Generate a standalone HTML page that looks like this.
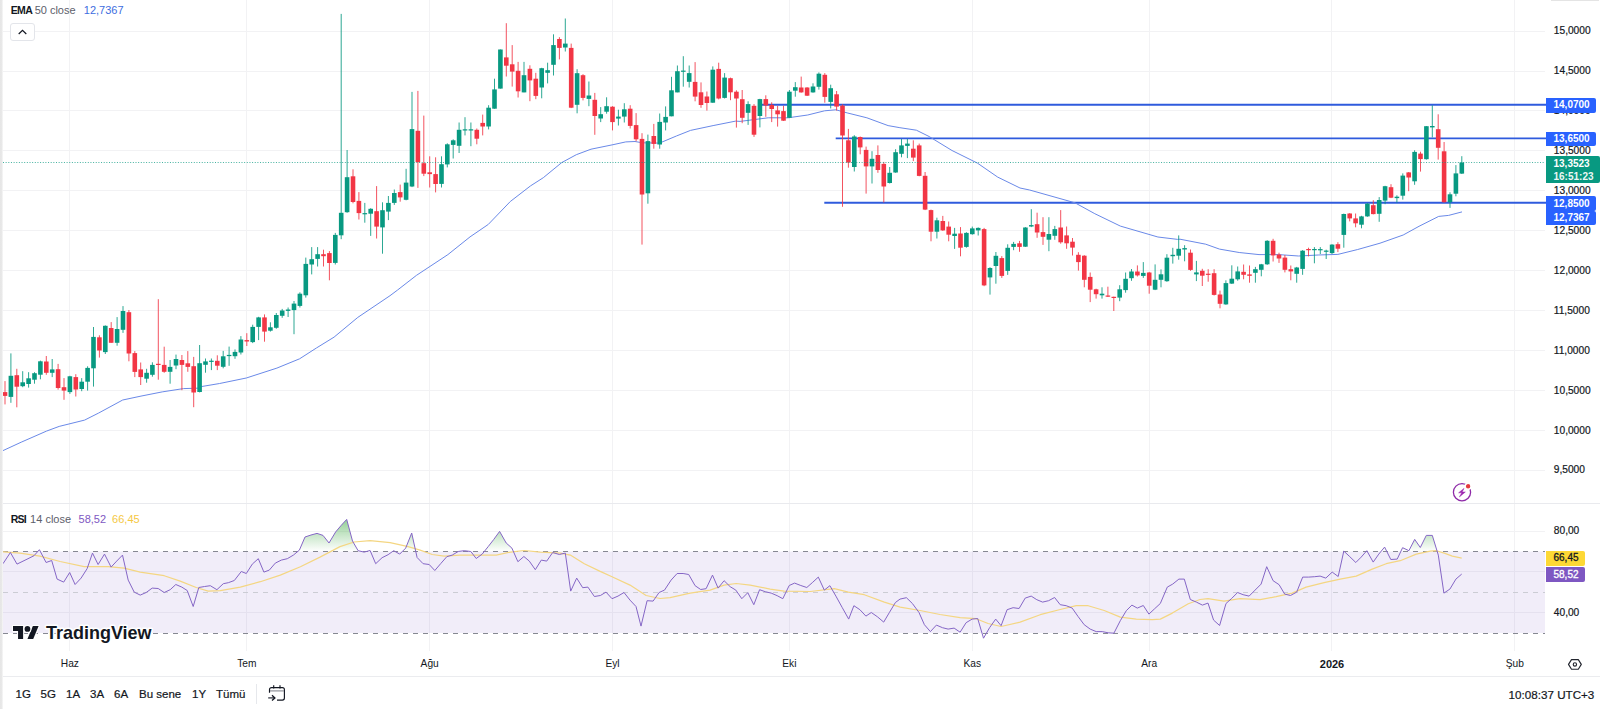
<!DOCTYPE html>
<html><head><meta charset="utf-8"><title>Chart</title>
<style>
html,body{margin:0;padding:0;background:#fff;}
body{width:1600px;height:709px;position:relative;overflow:hidden;font-family:"Liberation Sans",sans-serif;color:#131722;}
svg{position:absolute;left:0;top:0;}
.t{position:absolute;white-space:nowrap;line-height:1;}
.ax{font-size:10.2px;left:1553.8px;transform:translateY(-50%);-webkit-text-stroke:0.2px #131722;margin-top:0.2px}
.tm{font-size:10.2px;transform:translate(-50%,-50%);top:664px;}
.tb{font-size:11.5px;top:694.8px;transform:translateY(-50%);-webkit-text-stroke:0.2px #131722;}
.lb{position:absolute;left:1546px;color:#fff;font-size:10px;font-weight:bold;box-sizing:border-box;padding-left:7.5px;border-radius:0 2px 2px 0;white-space:nowrap;}
.strip{position:absolute;left:0;top:0;width:3px;height:709px;background:linear-gradient(90deg,#e6e6e6 0,#e9e9e9 70%,#fff 100%);}
</style></head><body>

<svg width="1600" height="709" viewBox="0 0 1600 709"><defs><clipPath id="rc"><polygon points="3,700 3.0,563.7 10.4,552.5 17.0,564.1 26.0,559.7 34.0,555.7 39.4,549.7 46.1,562.5 51.7,560.5 57.1,579.1 63.7,582.1 69.7,572.5 75.1,584.5 81.1,578.1 87.1,568.7 92.5,553.1 98.1,564.5 104.5,554.1 111.1,567.1 116.7,561.1 122.5,555.1 128.2,580.1 134.2,592.1 140.2,595.1 146.2,592.5 152.2,588.1 158.2,588.5 164.2,592.5 170.2,589.7 175.8,584.5 181.8,587.1 187.2,590.5 193.2,606.5 198.8,587.5 204.6,586.5 210.3,585.7 216.9,589.7 223.3,583.7 228.3,582.7 234.3,580.5 241.3,571.5 246.3,573.5 252.3,564.1 258.3,558.7 263.9,572.1 269.3,570.1 275.3,563.1 281.3,560.1 287.3,558.7 293.4,555.1 299.4,550.1 305.0,537.0 311.0,535.0 317.0,533.4 323.0,535.4 329.0,543.0 335.6,532.0 341.0,525.6 346.7,519.4 352.5,541.0 358.1,550.7 364.1,552.1 370.1,550.5 375.7,563.7 382.1,557.7 388.1,554.7 393.7,550.7 399.7,554.1 405.7,548.1 411.7,533.0 417.1,557.5 423.1,563.7 429.2,564.5 434.8,570.5 440.8,563.5 446.8,556.7 452.2,555.1 458.2,551.5 464.2,550.7 470.8,551.5 476.2,558.5 482.2,554.1 488.2,546.6 493.8,539.4 499.6,531.4 506.2,543.0 511.9,548.1 517.9,561.7 523.9,556.5 529.3,561.1 535.3,569.7 541.3,560.1 546.7,561.1 552.7,552.5 559.3,554.5 565.3,553.1 570.7,591.1 576.7,578.1 582.7,587.7 587.9,587.1 594.4,596.5 600.4,595.5 606.0,592.1 612.0,598.7 618.0,596.1 624.0,592.5 630.0,600.1 636.0,606.5 641.0,626.1 647.1,600.7 653.1,601.1 659.1,592.5 664.5,590.1 671.1,580.1 677.1,573.5 683.1,573.5 688.7,574.5 695.1,585.7 700.7,589.5 706.1,588.7 712.5,575.1 718.1,588.1 724.1,580.7 730.2,586.7 735.8,590.1 741.8,598.7 747.8,592.7 753.8,604.7 759.6,589.7 765.2,591.7 771.2,593.1 777.2,595.7 782.8,598.7 789.2,585.5 794.6,583.1 800.8,585.5 806.8,587.5 812.7,582.3 818.3,577.1 824.3,590.1 829.9,585.7 835.9,596.1 842.3,607.7 848.7,619.1 853.9,605.7 859.9,609.7 865.9,616.1 871.3,612.5 877.3,616.7 883.7,622.1 889.5,612.3 895.4,602.5 900.0,599.1 906.4,597.7 912.4,603.5 919.0,612.5 924.4,624.7 930.4,631.6 936.4,625.1 942.5,627.7 948.1,629.1 954.1,628.1 960.1,632.2 966.1,622.7 972.1,619.1 977.7,618.5 983.5,638.2 989.7,627.5 995.7,619.1 1001.1,625.7 1007.1,609.7 1013.1,607.7 1019.1,608.5 1025.2,598.1 1031.2,596.1 1036.8,599.7 1042.6,602.1 1048.6,600.7 1054.6,597.5 1060.2,604.7 1066.2,605.7 1072.2,608.1 1078.2,616.7 1084.2,624.7 1090.2,629.1 1096.2,631.6 1102.2,631.6 1108.2,632.8 1113.9,633.2 1120.3,620.7 1126.3,610.7 1131.9,605.1 1137.3,608.1 1143.3,605.5 1148.9,614.1 1154.7,608.7 1160.3,603.5 1167.3,587.1 1172.7,584.1 1178.9,579.1 1184.3,579.1 1190.3,599.5 1196.4,602.1 1202.4,605.1 1208.0,603.1 1213.6,620.1 1219.6,625.5 1226.0,603.5 1231.6,598.5 1237.6,592.5 1243.1,594.7 1249.1,596.1 1255.1,590.1 1261.1,584.1 1266.7,566.7 1273.1,580.7 1279.1,584.7 1284.7,594.1 1290.5,595.5 1296.7,592.1 1302.7,577.1 1308.7,577.1 1314.7,576.7 1320.1,576.1 1325.8,578.1 1332.2,572.1 1338.2,576.5 1343.8,551.1 1349.8,556.7 1355.8,562.5 1361.2,557.1 1366.8,550.7 1373.2,562.1 1378.8,554.1 1384.6,547.1 1390.8,559.5 1397.2,559.1 1402.6,547.7 1408.9,550.7 1414.7,539.4 1420.3,547.5 1426.3,535.4 1432.3,535.4 1438.3,555.1 1443.9,593.1 1449.9,589.1 1455.9,579.1 1461.7,574.1 1461.7,700"/></clipPath></defs>
<line x1="3" y1="31.5" x2="1545" y2="31.5" stroke="#f2f2f4" stroke-width="1"/>
<line x1="3" y1="71.5" x2="1545" y2="71.5" stroke="#f2f2f4" stroke-width="1"/>
<line x1="3" y1="110.5" x2="1545" y2="110.5" stroke="#f2f2f4" stroke-width="1"/>
<line x1="3" y1="150.5" x2="1545" y2="150.5" stroke="#f2f2f4" stroke-width="1"/>
<line x1="3" y1="190.5" x2="1545" y2="190.5" stroke="#f2f2f4" stroke-width="1"/>
<line x1="3" y1="230.5" x2="1545" y2="230.5" stroke="#f2f2f4" stroke-width="1"/>
<line x1="3" y1="270.5" x2="1545" y2="270.5" stroke="#f2f2f4" stroke-width="1"/>
<line x1="3" y1="310.5" x2="1545" y2="310.5" stroke="#f2f2f4" stroke-width="1"/>
<line x1="3" y1="350.5" x2="1545" y2="350.5" stroke="#f2f2f4" stroke-width="1"/>
<line x1="3" y1="390.5" x2="1545" y2="390.5" stroke="#f2f2f4" stroke-width="1"/>
<line x1="3" y1="430.5" x2="1545" y2="430.5" stroke="#f2f2f4" stroke-width="1"/>
<line x1="3" y1="470.5" x2="1545" y2="470.5" stroke="#f2f2f4" stroke-width="1"/>
<line x1="3" y1="531.5" x2="1545" y2="531.5" stroke="#f2f2f4" stroke-width="1"/>
<line x1="3" y1="571.5" x2="1545" y2="571.5" stroke="#f2f2f4" stroke-width="1"/>
<line x1="3" y1="612.5" x2="1545" y2="612.5" stroke="#f2f2f4" stroke-width="1"/>
<line x1="69.5" y1="0" x2="69.5" y2="651" stroke="#f2f2f4" stroke-width="1"/>
<line x1="246.5" y1="0" x2="246.5" y2="651" stroke="#f2f2f4" stroke-width="1"/>
<line x1="429.5" y1="0" x2="429.5" y2="651" stroke="#f2f2f4" stroke-width="1"/>
<line x1="612.5" y1="0" x2="612.5" y2="651" stroke="#f2f2f4" stroke-width="1"/>
<line x1="789.5" y1="0" x2="789.5" y2="651" stroke="#f2f2f4" stroke-width="1"/>
<line x1="972.5" y1="0" x2="972.5" y2="651" stroke="#f2f2f4" stroke-width="1"/>
<line x1="1149.5" y1="0" x2="1149.5" y2="651" stroke="#f2f2f4" stroke-width="1"/>
<line x1="1331.5" y1="0" x2="1331.5" y2="651" stroke="#f2f2f4" stroke-width="1"/>
<line x1="1514.5" y1="0" x2="1514.5" y2="651" stroke="#f2f2f4" stroke-width="1"/>
<rect x="3" y="551.5" width="1542" height="81.5" fill="#7e57c2" fill-opacity="0.105"/>
<line x1="0" y1="503.5" x2="1600" y2="503.5" stroke="#e9eaee" stroke-width="1"/>
<line x1="0" y1="676.5" x2="1600" y2="676.5" stroke="#ebecef" stroke-width="1"/>
<rect x="1551" y="0" width="48" height="1" fill="#e4e4e4"/>
<line x1="762" y1="104.8" x2="1546" y2="104.8" stroke="#2f5bdd" stroke-width="1.9"/>
<line x1="835.7" y1="138.4" x2="1546" y2="138.4" stroke="#2f5bdd" stroke-width="1.9"/>
<line x1="824.3" y1="202.8" x2="1546" y2="202.8" stroke="#2f5bdd" stroke-width="1.9"/>
<polyline fill="none" stroke="#6a89e8" stroke-width="1" stroke-linejoin="round" points="2.8,450.7 21.2,442.2 46.5,431.1 59.2,426.4 84.6,420.1 98.7,413.0 122.7,400.0 141.0,396.1 162.2,391.9 183.4,388.6 200.0,388.1 201.8,386.5 219.6,383.5 246.3,378.0 276.9,368.1 299.6,358.8 316.4,348.0 334.1,337.1 357.8,317.4 390.0,295.7 397.6,290.0 416.4,275.4 447.9,254.6 470.0,236.9 488.3,224.4 510.3,201.5 530.5,185.9 543.3,177.7 561.7,162.6 576.3,154.7 591.0,149.2 613.0,144.7 625.8,141.9 635.0,141.5 642.3,142.8 659.5,143.1 676.4,136.0 690.5,130.4 713.1,125.6 735.7,121.1 740.0,121.4 768.2,117.8 788.0,117.8 807.7,115.0 824.6,110.8 835.9,109.8 847.2,112.9 866.9,117.8 888.1,125.6 899.9,127.7 916.4,130.2 929.1,136.5 952.0,150.5 977.4,163.1 997.7,177.1 1020.0,188.0 1029.6,190.0 1075.0,202.8 1094.8,213.7 1120.4,226.1 1157.9,237.0 1177.7,239.4 1180.0,239.2 1205.7,244.2 1219.5,249.1 1239.2,252.5 1259.0,254.6 1278.7,254.6 1298.5,256.0 1318.2,255.0 1337.9,254.4 1357.7,249.5 1380.0,243.2 1403.2,235.0 1419.0,226.3 1438.7,216.4 1448.6,215.4 1462.0,211.9"/>
<g stroke-width="1" opacity="0.85"><line x1="5.0" y1="381.1" x2="5.0" y2="404.4" stroke="#f23645"/><line x1="10.9" y1="353.4" x2="10.9" y2="402.8" stroke="#089981"/><line x1="16.8" y1="368.8" x2="16.8" y2="407.3" stroke="#f23645"/><line x1="22.7" y1="371.2" x2="22.7" y2="387.2" stroke="#089981"/><line x1="28.6" y1="372.2" x2="28.6" y2="387.6" stroke="#089981"/><line x1="34.5" y1="372.2" x2="34.5" y2="383.7" stroke="#089981"/><line x1="40.4" y1="360.6" x2="40.4" y2="379.3" stroke="#089981"/><line x1="46.3" y1="356.0" x2="46.3" y2="374.8" stroke="#f23645"/><line x1="52.2" y1="359.0" x2="52.2" y2="377.1" stroke="#089981"/><line x1="58.1" y1="363.9" x2="58.1" y2="389.6" stroke="#f23645"/><line x1="64.0" y1="378.1" x2="64.0" y2="399.8" stroke="#f23645"/><line x1="69.9" y1="375.8" x2="69.9" y2="393.9" stroke="#089981"/><line x1="75.8" y1="374.2" x2="75.8" y2="396.5" stroke="#f23645"/><line x1="81.7" y1="378.1" x2="81.7" y2="391.2" stroke="#089981"/><line x1="87.6" y1="366.3" x2="87.6" y2="390.6" stroke="#089981"/><line x1="93.5" y1="327.0" x2="93.5" y2="386.6" stroke="#089981"/><line x1="99.4" y1="335.3" x2="99.4" y2="357.6" stroke="#f23645"/><line x1="105.3" y1="325.4" x2="105.3" y2="354.0" stroke="#089981"/><line x1="111.2" y1="322.1" x2="111.2" y2="342.8" stroke="#f23645"/><line x1="117.1" y1="317.1" x2="117.1" y2="345.7" stroke="#089981"/><line x1="123.0" y1="306.1" x2="123.0" y2="332.9" stroke="#089981"/><line x1="128.9" y1="310.0" x2="128.9" y2="361.3" stroke="#f23645"/><line x1="134.8" y1="351.1" x2="134.8" y2="377.1" stroke="#f23645"/><line x1="140.7" y1="362.5" x2="140.7" y2="385.0" stroke="#f23645"/><line x1="146.6" y1="368.8" x2="146.6" y2="382.7" stroke="#089981"/><line x1="152.4" y1="362.3" x2="152.4" y2="376.7" stroke="#089981"/><line x1="158.3" y1="299.2" x2="158.3" y2="379.7" stroke="#f23645"/><line x1="164.2" y1="346.7" x2="164.2" y2="372.8" stroke="#f23645"/><line x1="170.1" y1="360.0" x2="170.1" y2="383.7" stroke="#089981"/><line x1="176.0" y1="354.6" x2="176.0" y2="369.2" stroke="#089981"/><line x1="181.9" y1="355.0" x2="181.9" y2="390.2" stroke="#f23645"/><line x1="187.8" y1="351.1" x2="187.8" y2="371.8" stroke="#f23645"/><line x1="193.7" y1="356.9" x2="193.7" y2="407.2" stroke="#f23645"/><line x1="199.6" y1="345.0" x2="199.6" y2="392.4" stroke="#089981"/><line x1="205.5" y1="358.5" x2="205.5" y2="372.7" stroke="#089981"/><line x1="211.4" y1="358.5" x2="211.4" y2="370.1" stroke="#089981"/><line x1="217.3" y1="355.3" x2="217.3" y2="370.1" stroke="#f23645"/><line x1="223.2" y1="350.9" x2="223.2" y2="368.3" stroke="#089981"/><line x1="229.1" y1="346.6" x2="229.1" y2="365.8" stroke="#089981"/><line x1="235.0" y1="349.4" x2="235.0" y2="358.8" stroke="#089981"/><line x1="240.9" y1="336.1" x2="240.9" y2="354.5" stroke="#089981"/><line x1="246.8" y1="333.2" x2="246.8" y2="346.0" stroke="#f23645"/><line x1="252.7" y1="324.7" x2="252.7" y2="343.1" stroke="#089981"/><line x1="258.6" y1="316.8" x2="258.6" y2="340.1" stroke="#089981"/><line x1="264.5" y1="314.4" x2="264.5" y2="341.7" stroke="#f23645"/><line x1="270.4" y1="322.3" x2="270.4" y2="331.6" stroke="#089981"/><line x1="276.3" y1="313.0" x2="276.3" y2="328.8" stroke="#089981"/><line x1="282.2" y1="308.9" x2="282.2" y2="317.8" stroke="#089981"/><line x1="288.1" y1="307.5" x2="288.1" y2="317.0" stroke="#089981"/><line x1="294.0" y1="301.0" x2="294.0" y2="334.2" stroke="#089981"/><line x1="299.9" y1="292.3" x2="299.9" y2="307.5" stroke="#089981"/><line x1="305.8" y1="257.6" x2="305.8" y2="297.6" stroke="#089981"/><line x1="311.7" y1="247.1" x2="311.7" y2="274.4" stroke="#089981"/><line x1="317.6" y1="247.1" x2="317.6" y2="266.5" stroke="#089981"/><line x1="323.5" y1="249.7" x2="323.5" y2="266.5" stroke="#f23645"/><line x1="329.4" y1="251.1" x2="329.4" y2="280.3" stroke="#f23645"/><line x1="335.3" y1="232.9" x2="335.3" y2="264.5" stroke="#089981"/><line x1="341.2" y1="13.9" x2="341.2" y2="239.2" stroke="#089981"/><line x1="347.1" y1="150.0" x2="347.1" y2="212.8" stroke="#089981"/><line x1="353.0" y1="169.3" x2="353.0" y2="203.3" stroke="#f23645"/><line x1="358.9" y1="192.1" x2="358.9" y2="219.5" stroke="#f23645"/><line x1="364.8" y1="202.9" x2="364.8" y2="222.7" stroke="#089981"/><line x1="370.7" y1="208.2" x2="370.7" y2="235.9" stroke="#089981"/><line x1="376.6" y1="186.1" x2="376.6" y2="238.5" stroke="#f23645"/><line x1="382.5" y1="202.3" x2="382.5" y2="253.7" stroke="#089981"/><line x1="388.4" y1="196.0" x2="388.4" y2="220.1" stroke="#089981"/><line x1="394.3" y1="189.5" x2="394.3" y2="204.9" stroke="#089981"/><line x1="400.2" y1="184.6" x2="400.2" y2="201.7" stroke="#f23645"/><line x1="406.1" y1="168.8" x2="406.1" y2="200.3" stroke="#089981"/><line x1="412.0" y1="91.9" x2="412.0" y2="187.1" stroke="#089981"/><line x1="417.9" y1="90.9" x2="417.9" y2="187.9" stroke="#f23645"/><line x1="423.8" y1="115.6" x2="423.8" y2="176.1" stroke="#f23645"/><line x1="429.7" y1="156.3" x2="429.7" y2="187.5" stroke="#f23645"/><line x1="435.6" y1="157.3" x2="435.6" y2="192.4" stroke="#f23645"/><line x1="441.5" y1="156.3" x2="441.5" y2="187.5" stroke="#089981"/><line x1="447.3" y1="143.3" x2="447.3" y2="167.4" stroke="#089981"/><line x1="453.2" y1="139.3" x2="453.2" y2="158.5" stroke="#089981"/><line x1="459.1" y1="122.5" x2="459.1" y2="153.0" stroke="#089981"/><line x1="465.0" y1="117.2" x2="465.0" y2="135.4" stroke="#089981"/><line x1="470.9" y1="122.5" x2="470.9" y2="146.2" stroke="#089981"/><line x1="476.8" y1="128.5" x2="476.8" y2="144.3" stroke="#f23645"/><line x1="482.7" y1="114.6" x2="482.7" y2="135.4" stroke="#f23645"/><line x1="488.6" y1="105.2" x2="488.6" y2="129.4" stroke="#089981"/><line x1="494.5" y1="78.7" x2="494.5" y2="108.7" stroke="#089981"/><line x1="500.4" y1="49.5" x2="500.4" y2="88.6" stroke="#089981"/><line x1="506.3" y1="23.2" x2="506.3" y2="76.5" stroke="#f23645"/><line x1="512.2" y1="45.1" x2="512.2" y2="86.6" stroke="#f23645"/><line x1="518.1" y1="61.9" x2="518.1" y2="97.5" stroke="#f23645"/><line x1="524.0" y1="61.9" x2="524.0" y2="92.3" stroke="#089981"/><line x1="529.9" y1="65.3" x2="529.9" y2="101.2" stroke="#f23645"/><line x1="535.8" y1="72.8" x2="535.8" y2="99.2" stroke="#f23645"/><line x1="541.7" y1="67.8" x2="541.7" y2="98.3" stroke="#089981"/><line x1="547.6" y1="62.7" x2="547.6" y2="83.4" stroke="#089981"/><line x1="553.5" y1="34.3" x2="553.5" y2="75.5" stroke="#089981"/><line x1="559.4" y1="37.2" x2="559.4" y2="59.4" stroke="#f23645"/><line x1="565.3" y1="18.5" x2="565.3" y2="51.5" stroke="#089981"/><line x1="571.2" y1="43.6" x2="571.2" y2="108.1" stroke="#f23645"/><line x1="577.1" y1="69.2" x2="577.1" y2="113.3" stroke="#089981"/><line x1="583.0" y1="74.2" x2="583.0" y2="100.4" stroke="#f23645"/><line x1="588.9" y1="81.5" x2="588.9" y2="106.2" stroke="#089981"/><line x1="594.8" y1="92.9" x2="594.8" y2="134.8" stroke="#f23645"/><line x1="600.7" y1="107.1" x2="600.7" y2="122.1" stroke="#089981"/><line x1="606.6" y1="97.3" x2="606.6" y2="113.7" stroke="#089981"/><line x1="612.5" y1="106.2" x2="612.5" y2="130.4" stroke="#f23645"/><line x1="618.4" y1="109.7" x2="618.4" y2="125.5" stroke="#089981"/><line x1="624.3" y1="103.2" x2="624.3" y2="122.5" stroke="#089981"/><line x1="630.2" y1="105.2" x2="630.2" y2="128.5" stroke="#f23645"/><line x1="636.1" y1="113.1" x2="636.1" y2="141.3" stroke="#f23645"/><line x1="642.0" y1="133.2" x2="642.0" y2="244.6" stroke="#f23645"/><line x1="647.9" y1="134.6" x2="647.9" y2="203.7" stroke="#089981"/><line x1="653.8" y1="123.9" x2="653.8" y2="148.7" stroke="#f23645"/><line x1="659.7" y1="113.5" x2="659.7" y2="148.7" stroke="#089981"/><line x1="665.6" y1="106.4" x2="665.6" y2="130.4" stroke="#089981"/><line x1="671.5" y1="76.8" x2="671.5" y2="116.3" stroke="#089981"/><line x1="677.4" y1="65.5" x2="677.4" y2="92.3" stroke="#089981"/><line x1="683.3" y1="56.2" x2="683.3" y2="86.7" stroke="#089981"/><line x1="689.2" y1="65.5" x2="689.2" y2="87.5" stroke="#089981"/><line x1="695.1" y1="62.1" x2="695.1" y2="101.3" stroke="#f23645"/><line x1="701.0" y1="82.4" x2="701.0" y2="107.8" stroke="#f23645"/><line x1="706.9" y1="91.5" x2="706.9" y2="110.6" stroke="#f23645"/><line x1="712.8" y1="66.4" x2="712.8" y2="102.8" stroke="#089981"/><line x1="718.7" y1="62.7" x2="718.7" y2="99.4" stroke="#f23645"/><line x1="724.6" y1="73.1" x2="724.6" y2="98.5" stroke="#089981"/><line x1="730.5" y1="77.6" x2="730.5" y2="100.2" stroke="#f23645"/><line x1="736.4" y1="90.3" x2="736.4" y2="127.6" stroke="#f23645"/><line x1="742.2" y1="90.0" x2="742.2" y2="123.2" stroke="#f23645"/><line x1="748.1" y1="101.3" x2="748.1" y2="124.9" stroke="#089981"/><line x1="754.0" y1="104.1" x2="754.0" y2="136.9" stroke="#f23645"/><line x1="759.9" y1="98.8" x2="759.9" y2="127.4" stroke="#089981"/><line x1="765.8" y1="95.3" x2="765.8" y2="116.8" stroke="#f23645"/><line x1="771.7" y1="102.3" x2="771.7" y2="122.1" stroke="#f23645"/><line x1="777.6" y1="105.8" x2="777.6" y2="126.6" stroke="#f23645"/><line x1="783.5" y1="105.8" x2="783.5" y2="120.9" stroke="#f23645"/><line x1="789.4" y1="90.0" x2="789.4" y2="118.1" stroke="#089981"/><line x1="795.3" y1="82.1" x2="795.3" y2="96.7" stroke="#089981"/><line x1="801.2" y1="76.6" x2="801.2" y2="92.7" stroke="#f23645"/><line x1="807.1" y1="87.2" x2="807.1" y2="96.0" stroke="#f23645"/><line x1="813.0" y1="83.3" x2="813.0" y2="92.7" stroke="#089981"/><line x1="818.9" y1="72.4" x2="818.9" y2="89.6" stroke="#089981"/><line x1="824.8" y1="73.1" x2="824.8" y2="102.7" stroke="#f23645"/><line x1="830.7" y1="84.7" x2="830.7" y2="108.4" stroke="#089981"/><line x1="836.6" y1="91.0" x2="836.6" y2="110.5" stroke="#f23645"/><line x1="842.5" y1="104.4" x2="842.5" y2="206.8" stroke="#f23645"/><line x1="848.4" y1="128.9" x2="848.4" y2="167.7" stroke="#f23645"/><line x1="854.3" y1="135.2" x2="854.3" y2="171.5" stroke="#089981"/><line x1="860.2" y1="136.5" x2="860.2" y2="154.3" stroke="#f23645"/><line x1="866.1" y1="146.6" x2="866.1" y2="193.6" stroke="#f23645"/><line x1="872.0" y1="151.2" x2="872.0" y2="183.5" stroke="#089981"/><line x1="877.9" y1="145.4" x2="877.9" y2="172.8" stroke="#f23645"/><line x1="883.8" y1="161.9" x2="883.8" y2="202.5" stroke="#f23645"/><line x1="889.7" y1="167.0" x2="889.7" y2="183.5" stroke="#089981"/><line x1="895.6" y1="149.2" x2="895.6" y2="172.8" stroke="#089981"/><line x1="901.5" y1="139.0" x2="901.5" y2="157.3" stroke="#089981"/><line x1="907.4" y1="139.0" x2="907.4" y2="158.1" stroke="#089981"/><line x1="913.3" y1="140.3" x2="913.3" y2="161.1" stroke="#f23645"/><line x1="919.2" y1="143.6" x2="919.2" y2="176.3" stroke="#f23645"/><line x1="925.1" y1="172.0" x2="925.1" y2="210.1" stroke="#f23645"/><line x1="931.0" y1="209.6" x2="931.0" y2="241.3" stroke="#f23645"/><line x1="936.9" y1="217.7" x2="936.9" y2="238.5" stroke="#089981"/><line x1="942.8" y1="215.9" x2="942.8" y2="230.9" stroke="#f23645"/><line x1="948.7" y1="221.5" x2="948.7" y2="241.3" stroke="#f23645"/><line x1="954.6" y1="227.9" x2="954.6" y2="248.9" stroke="#089981"/><line x1="960.5" y1="227.1" x2="960.5" y2="256.3" stroke="#f23645"/><line x1="966.4" y1="232.2" x2="966.4" y2="247.7" stroke="#089981"/><line x1="972.3" y1="226.6" x2="972.3" y2="234.7" stroke="#089981"/><line x1="978.2" y1="227.4" x2="978.2" y2="235.5" stroke="#089981"/><line x1="984.1" y1="227.9" x2="984.1" y2="286.2" stroke="#f23645"/><line x1="990.0" y1="267.2" x2="990.0" y2="294.6" stroke="#089981"/><line x1="995.9" y1="252.0" x2="995.9" y2="283.7" stroke="#089981"/><line x1="1001.8" y1="256.1" x2="1001.8" y2="277.9" stroke="#f23645"/><line x1="1007.7" y1="244.3" x2="1007.7" y2="274.9" stroke="#089981"/><line x1="1013.6" y1="241.9" x2="1013.6" y2="250.2" stroke="#089981"/><line x1="1019.5" y1="240.9" x2="1019.5" y2="251.8" stroke="#f23645"/><line x1="1025.4" y1="227.1" x2="1025.4" y2="246.9" stroke="#089981"/><line x1="1031.3" y1="209.2" x2="1031.3" y2="227.1" stroke="#089981"/><line x1="1037.1" y1="212.7" x2="1037.1" y2="237.8" stroke="#f23645"/><line x1="1043.0" y1="217.2" x2="1043.0" y2="244.9" stroke="#f23645"/><line x1="1048.9" y1="217.2" x2="1048.9" y2="251.2" stroke="#089981"/><line x1="1054.8" y1="225.9" x2="1054.8" y2="239.8" stroke="#089981"/><line x1="1060.7" y1="210.1" x2="1060.7" y2="243.7" stroke="#f23645"/><line x1="1066.6" y1="226.5" x2="1066.6" y2="248.8" stroke="#f23645"/><line x1="1072.5" y1="238.0" x2="1072.5" y2="255.5" stroke="#f23645"/><line x1="1078.4" y1="252.2" x2="1078.4" y2="270.6" stroke="#f23645"/><line x1="1084.3" y1="255.2" x2="1084.3" y2="287.3" stroke="#f23645"/><line x1="1090.2" y1="272.5" x2="1090.2" y2="302.1" stroke="#f23645"/><line x1="1096.1" y1="288.7" x2="1096.1" y2="298.6" stroke="#f23645"/><line x1="1102.0" y1="287.3" x2="1102.0" y2="298.6" stroke="#089981"/><line x1="1107.9" y1="286.7" x2="1107.9" y2="297.0" stroke="#f23645"/><line x1="1113.8" y1="296.6" x2="1113.8" y2="311.0" stroke="#f23645"/><line x1="1119.7" y1="285.2" x2="1119.7" y2="301.2" stroke="#089981"/><line x1="1125.6" y1="272.5" x2="1125.6" y2="292.7" stroke="#089981"/><line x1="1131.5" y1="269.0" x2="1131.5" y2="280.8" stroke="#089981"/><line x1="1137.4" y1="265.4" x2="1137.4" y2="276.5" stroke="#f23645"/><line x1="1143.3" y1="262.1" x2="1143.3" y2="277.9" stroke="#089981"/><line x1="1149.2" y1="271.9" x2="1149.2" y2="293.7" stroke="#f23645"/><line x1="1155.1" y1="264.4" x2="1155.1" y2="290.1" stroke="#089981"/><line x1="1161.0" y1="269.4" x2="1161.0" y2="287.3" stroke="#089981"/><line x1="1166.9" y1="254.2" x2="1166.9" y2="281.8" stroke="#089981"/><line x1="1172.8" y1="247.8" x2="1172.8" y2="263.6" stroke="#089981"/><line x1="1178.7" y1="235.4" x2="1178.7" y2="259.7" stroke="#089981"/><line x1="1184.6" y1="245.2" x2="1184.6" y2="261.3" stroke="#089981"/><line x1="1190.5" y1="249.5" x2="1190.5" y2="270.8" stroke="#f23645"/><line x1="1196.4" y1="260.9" x2="1196.4" y2="281.1" stroke="#089981"/><line x1="1202.3" y1="268.8" x2="1202.3" y2="286.0" stroke="#f23645"/><line x1="1208.2" y1="269.2" x2="1208.2" y2="281.7" stroke="#f23645"/><line x1="1214.1" y1="269.2" x2="1214.1" y2="295.5" stroke="#f23645"/><line x1="1220.0" y1="290.6" x2="1220.0" y2="308.3" stroke="#f23645"/><line x1="1225.9" y1="280.3" x2="1225.9" y2="304.8" stroke="#089981"/><line x1="1231.8" y1="265.3" x2="1231.8" y2="284.0" stroke="#089981"/><line x1="1237.7" y1="266.5" x2="1237.7" y2="280.7" stroke="#089981"/><line x1="1243.6" y1="264.5" x2="1243.6" y2="279.3" stroke="#f23645"/><line x1="1249.5" y1="265.5" x2="1249.5" y2="282.7" stroke="#f23645"/><line x1="1255.4" y1="266.9" x2="1255.4" y2="282.7" stroke="#089981"/><line x1="1261.3" y1="263.9" x2="1261.3" y2="276.3" stroke="#089981"/><line x1="1267.2" y1="240.2" x2="1267.2" y2="264.9" stroke="#089981"/><line x1="1273.1" y1="238.8" x2="1273.1" y2="261.5" stroke="#f23645"/><line x1="1279.0" y1="252.7" x2="1279.0" y2="262.9" stroke="#f23645"/><line x1="1284.9" y1="255.0" x2="1284.9" y2="272.4" stroke="#f23645"/><line x1="1290.8" y1="265.5" x2="1290.8" y2="280.3" stroke="#f23645"/><line x1="1296.7" y1="266.9" x2="1296.7" y2="282.7" stroke="#089981"/><line x1="1302.6" y1="250.1" x2="1302.6" y2="274.8" stroke="#089981"/><line x1="1308.5" y1="247.7" x2="1308.5" y2="256.4" stroke="#f23645"/><line x1="1314.4" y1="247.1" x2="1314.4" y2="263.3" stroke="#089981"/><line x1="1320.3" y1="247.1" x2="1320.3" y2="254.0" stroke="#089981"/><line x1="1326.2" y1="249.7" x2="1326.2" y2="259.0" stroke="#089981"/><line x1="1332.0" y1="244.2" x2="1332.0" y2="254.0" stroke="#089981"/><line x1="1337.9" y1="242.2" x2="1337.9" y2="252.1" stroke="#f23645"/><line x1="1343.8" y1="213.6" x2="1343.8" y2="247.7" stroke="#089981"/><line x1="1349.7" y1="213.1" x2="1349.7" y2="221.4" stroke="#f23645"/><line x1="1355.6" y1="213.5" x2="1355.6" y2="227.3" stroke="#f23645"/><line x1="1361.5" y1="215.8" x2="1361.5" y2="228.3" stroke="#089981"/><line x1="1367.4" y1="203.2" x2="1367.4" y2="216.8" stroke="#089981"/><line x1="1373.3" y1="200.2" x2="1373.3" y2="214.4" stroke="#f23645"/><line x1="1379.2" y1="197.1" x2="1379.2" y2="221.8" stroke="#089981"/><line x1="1385.1" y1="185.8" x2="1385.1" y2="204.2" stroke="#089981"/><line x1="1391.0" y1="184.2" x2="1391.0" y2="198.1" stroke="#f23645"/><line x1="1396.9" y1="195.3" x2="1396.9" y2="202.6" stroke="#089981"/><line x1="1402.8" y1="173.4" x2="1402.8" y2="199.6" stroke="#089981"/><line x1="1408.7" y1="172.0" x2="1408.7" y2="191.2" stroke="#f23645"/><line x1="1414.6" y1="150.3" x2="1414.6" y2="184.8" stroke="#089981"/><line x1="1420.5" y1="151.7" x2="1420.5" y2="171.6" stroke="#f23645"/><line x1="1426.4" y1="126.0" x2="1426.4" y2="159.6" stroke="#089981"/><line x1="1432.3" y1="105.3" x2="1432.3" y2="137.4" stroke="#089981"/><line x1="1438.2" y1="114.3" x2="1438.2" y2="159.6" stroke="#f23645"/><line x1="1444.1" y1="142.0" x2="1444.1" y2="202.6" stroke="#f23645"/><line x1="1450.0" y1="192.3" x2="1450.0" y2="207.9" stroke="#089981"/><line x1="1455.9" y1="165.1" x2="1455.9" y2="196.3" stroke="#089981"/><line x1="1461.8" y1="156.2" x2="1461.8" y2="174.0" stroke="#089981"/></g>
<g><rect x="2.7" y="392.1" width="4.6" height="3.8" fill="#f23645"/><rect x="8.6" y="375.8" width="4.6" height="21.1" fill="#089981"/><rect x="14.5" y="375.2" width="4.6" height="11.5" fill="#f23645"/><rect x="20.4" y="382.3" width="4.6" height="3.9" fill="#089981"/><rect x="26.3" y="378.3" width="4.6" height="5.7" fill="#089981"/><rect x="32.2" y="373.2" width="4.6" height="6.5" fill="#089981"/><rect x="38.1" y="361.3" width="4.6" height="13.4" fill="#089981"/><rect x="44.0" y="361.5" width="4.6" height="11.3" fill="#f23645"/><rect x="49.9" y="369.4" width="4.6" height="3.4" fill="#089981"/><rect x="55.8" y="369.2" width="4.6" height="18.8" fill="#f23645"/><rect x="61.7" y="387.2" width="4.6" height="3.4" fill="#f23645"/><rect x="67.6" y="376.3" width="4.6" height="15.8" fill="#089981"/><rect x="73.5" y="377.1" width="4.6" height="12.4" fill="#f23645"/><rect x="79.4" y="381.7" width="4.6" height="7.3" fill="#089981"/><rect x="85.3" y="367.9" width="4.6" height="13.8" fill="#089981"/><rect x="91.2" y="336.9" width="4.6" height="31.4" fill="#089981"/><rect x="97.1" y="337.3" width="4.6" height="13.2" fill="#f23645"/><rect x="103.0" y="325.8" width="4.6" height="26.3" fill="#089981"/><rect x="108.9" y="328.0" width="4.6" height="14.8" fill="#f23645"/><rect x="114.8" y="329.0" width="4.6" height="13.8" fill="#089981"/><rect x="120.7" y="311.0" width="4.6" height="18.8" fill="#089981"/><rect x="126.6" y="312.2" width="4.6" height="41.3" fill="#f23645"/><rect x="132.5" y="353.1" width="4.6" height="18.8" fill="#f23645"/><rect x="138.4" y="369.4" width="4.6" height="7.7" fill="#f23645"/><rect x="144.3" y="372.8" width="4.6" height="5.9" fill="#089981"/><rect x="150.1" y="364.9" width="4.6" height="9.9" fill="#089981"/><rect x="156.0" y="363.8" width="4.6" height="1.2" fill="#f23645"/><rect x="161.9" y="364.9" width="4.6" height="6.9" fill="#f23645"/><rect x="167.8" y="366.9" width="4.6" height="4.9" fill="#089981"/><rect x="173.7" y="359.0" width="4.6" height="6.5" fill="#089981"/><rect x="179.6" y="360.0" width="4.6" height="4.9" fill="#f23645"/><rect x="185.5" y="363.3" width="4.6" height="3.6" fill="#f23645"/><rect x="191.4" y="366.2" width="4.6" height="26.3" fill="#f23645"/><rect x="197.3" y="363.2" width="4.6" height="28.8" fill="#089981"/><rect x="203.2" y="361.4" width="4.6" height="3.4" fill="#089981"/><rect x="209.1" y="360.7" width="4.6" height="1.2" fill="#089981"/><rect x="215.0" y="360.8" width="4.6" height="4.9" fill="#f23645"/><rect x="220.9" y="356.3" width="4.6" height="10.5" fill="#089981"/><rect x="226.8" y="354.9" width="4.6" height="1.2" fill="#089981"/><rect x="232.7" y="351.9" width="4.6" height="4.3" fill="#089981"/><rect x="238.6" y="339.5" width="4.6" height="13.0" fill="#089981"/><rect x="244.5" y="340.1" width="4.6" height="1.4" fill="#f23645"/><rect x="250.4" y="326.9" width="4.6" height="15.2" fill="#089981"/><rect x="256.3" y="317.4" width="4.6" height="9.5" fill="#089981"/><rect x="262.2" y="317.4" width="4.6" height="14.2" fill="#f23645"/><rect x="268.1" y="327.3" width="4.6" height="3.4" fill="#089981"/><rect x="274.0" y="315.0" width="4.6" height="12.8" fill="#089981"/><rect x="279.9" y="310.5" width="4.6" height="5.3" fill="#089981"/><rect x="285.8" y="309.5" width="4.6" height="1.4" fill="#089981"/><rect x="291.7" y="303.6" width="4.6" height="6.5" fill="#089981"/><rect x="297.6" y="293.7" width="4.6" height="12.2" fill="#089981"/><rect x="303.5" y="263.9" width="4.6" height="31.4" fill="#089981"/><rect x="309.4" y="259.2" width="4.6" height="5.3" fill="#089981"/><rect x="315.3" y="254.2" width="4.6" height="4.7" fill="#089981"/><rect x="321.2" y="254.2" width="4.6" height="2.0" fill="#f23645"/><rect x="327.1" y="253.1" width="4.6" height="9.9" fill="#f23645"/><rect x="333.0" y="234.9" width="4.6" height="28.0" fill="#089981"/><rect x="338.9" y="212.8" width="4.6" height="22.5" fill="#089981"/><rect x="344.8" y="177.2" width="4.6" height="35.0" fill="#089981"/><rect x="350.7" y="176.3" width="4.6" height="25.7" fill="#f23645"/><rect x="356.6" y="200.9" width="4.6" height="12.2" fill="#f23645"/><rect x="362.5" y="213.1" width="4.6" height="1.2" fill="#089981"/><rect x="368.4" y="208.8" width="4.6" height="4.9" fill="#089981"/><rect x="374.3" y="211.2" width="4.6" height="15.4" fill="#f23645"/><rect x="380.2" y="210.2" width="4.6" height="17.2" fill="#089981"/><rect x="386.1" y="202.9" width="4.6" height="8.7" fill="#089981"/><rect x="392.0" y="193.0" width="4.6" height="9.9" fill="#089981"/><rect x="397.9" y="192.1" width="4.6" height="5.3" fill="#f23645"/><rect x="403.8" y="182.6" width="4.6" height="17.2" fill="#089981"/><rect x="409.7" y="129.1" width="4.6" height="57.4" fill="#089981"/><rect x="415.6" y="130.8" width="4.6" height="31.4" fill="#f23645"/><rect x="421.5" y="163.2" width="4.6" height="10.5" fill="#f23645"/><rect x="427.4" y="172.3" width="4.6" height="1.8" fill="#f23645"/><rect x="433.3" y="174.1" width="4.6" height="9.9" fill="#f23645"/><rect x="439.2" y="164.2" width="4.6" height="19.7" fill="#089981"/><rect x="445.0" y="144.3" width="4.6" height="20.1" fill="#089981"/><rect x="450.9" y="140.3" width="4.6" height="4.6" fill="#089981"/><rect x="456.8" y="129.8" width="4.6" height="16.0" fill="#089981"/><rect x="462.7" y="129.3" width="4.6" height="1.2" fill="#089981"/><rect x="468.6" y="129.3" width="4.6" height="1.2" fill="#089981"/><rect x="474.5" y="129.8" width="4.6" height="8.9" fill="#f23645"/><rect x="480.4" y="122.9" width="4.6" height="3.6" fill="#f23645"/><rect x="486.3" y="107.7" width="4.6" height="18.8" fill="#089981"/><rect x="492.2" y="89.4" width="4.6" height="19.3" fill="#089981"/><rect x="498.1" y="49.5" width="4.6" height="39.1" fill="#089981"/><rect x="504.0" y="57.4" width="4.6" height="8.3" fill="#f23645"/><rect x="509.9" y="64.3" width="4.6" height="7.3" fill="#f23645"/><rect x="515.8" y="70.8" width="4.6" height="20.5" fill="#f23645"/><rect x="521.7" y="75.2" width="4.6" height="17.2" fill="#089981"/><rect x="527.6" y="68.8" width="4.6" height="11.6" fill="#f23645"/><rect x="533.5" y="78.7" width="4.6" height="17.2" fill="#f23645"/><rect x="539.4" y="68.2" width="4.6" height="19.3" fill="#089981"/><rect x="545.3" y="70.2" width="4.6" height="2.6" fill="#089981"/><rect x="551.2" y="45.1" width="4.6" height="19.7" fill="#089981"/><rect x="557.1" y="39.0" width="4.6" height="8.9" fill="#f23645"/><rect x="563.0" y="43.6" width="4.6" height="3.9" fill="#089981"/><rect x="568.9" y="47.9" width="4.6" height="59.8" fill="#f23645"/><rect x="574.8" y="73.2" width="4.6" height="31.6" fill="#089981"/><rect x="580.7" y="75.2" width="4.6" height="22.7" fill="#f23645"/><rect x="586.6" y="95.5" width="4.6" height="3.4" fill="#089981"/><rect x="592.5" y="99.8" width="4.6" height="16.2" fill="#f23645"/><rect x="598.4" y="114.2" width="4.6" height="4.3" fill="#089981"/><rect x="604.3" y="106.2" width="4.6" height="5.5" fill="#089981"/><rect x="610.2" y="106.7" width="4.6" height="15.4" fill="#f23645"/><rect x="616.1" y="116.6" width="4.6" height="2.0" fill="#089981"/><rect x="622.0" y="109.3" width="4.6" height="7.3" fill="#089981"/><rect x="627.9" y="108.7" width="4.6" height="17.2" fill="#f23645"/><rect x="633.8" y="125.1" width="4.6" height="14.2" fill="#f23645"/><rect x="639.7" y="138.9" width="4.6" height="55.6" fill="#f23645"/><rect x="645.6" y="141.1" width="4.6" height="52.2" fill="#089981"/><rect x="651.5" y="136.0" width="4.6" height="7.9" fill="#f23645"/><rect x="657.4" y="121.9" width="4.6" height="22.6" fill="#089981"/><rect x="663.3" y="116.9" width="4.6" height="5.6" fill="#089981"/><rect x="669.2" y="90.3" width="4.6" height="26.0" fill="#089981"/><rect x="675.1" y="71.2" width="4.6" height="21.2" fill="#089981"/><rect x="681.0" y="70.6" width="4.6" height="1.2" fill="#089981"/><rect x="686.9" y="73.1" width="4.6" height="8.7" fill="#089981"/><rect x="692.8" y="81.9" width="4.6" height="14.7" fill="#f23645"/><rect x="698.7" y="92.3" width="4.6" height="12.7" fill="#f23645"/><rect x="704.6" y="96.5" width="4.6" height="6.5" fill="#f23645"/><rect x="710.5" y="69.7" width="4.6" height="33.0" fill="#089981"/><rect x="716.4" y="68.9" width="4.6" height="29.6" fill="#f23645"/><rect x="722.3" y="77.6" width="4.6" height="20.3" fill="#089981"/><rect x="728.2" y="78.2" width="4.6" height="14.1" fill="#f23645"/><rect x="734.1" y="91.7" width="4.6" height="6.8" fill="#f23645"/><rect x="740.0" y="99.2" width="4.6" height="18.6" fill="#f23645"/><rect x="745.8" y="104.1" width="4.6" height="8.7" fill="#089981"/><rect x="751.7" y="105.8" width="4.6" height="28.9" fill="#f23645"/><rect x="757.6" y="99.1" width="4.6" height="16.9" fill="#089981"/><rect x="763.5" y="99.1" width="4.6" height="6.3" fill="#f23645"/><rect x="769.4" y="104.9" width="4.6" height="4.1" fill="#f23645"/><rect x="775.3" y="110.4" width="4.6" height="3.9" fill="#f23645"/><rect x="781.2" y="111.1" width="4.6" height="9.6" fill="#f23645"/><rect x="787.1" y="91.7" width="4.6" height="26.1" fill="#089981"/><rect x="793.0" y="87.2" width="4.6" height="3.5" fill="#089981"/><rect x="798.9" y="87.5" width="4.6" height="4.9" fill="#f23645"/><rect x="804.8" y="87.5" width="4.6" height="8.2" fill="#f23645"/><rect x="810.7" y="86.5" width="4.6" height="5.9" fill="#089981"/><rect x="816.6" y="73.7" width="4.6" height="13.1" fill="#089981"/><rect x="822.5" y="74.8" width="4.6" height="22.1" fill="#f23645"/><rect x="828.4" y="88.2" width="4.6" height="13.7" fill="#089981"/><rect x="834.3" y="94.3" width="4.6" height="12.3" fill="#f23645"/><rect x="840.2" y="105.6" width="4.6" height="29.9" fill="#f23645"/><rect x="846.1" y="140.3" width="4.6" height="22.3" fill="#f23645"/><rect x="852.0" y="136.5" width="4.6" height="30.5" fill="#089981"/><rect x="857.9" y="137.0" width="4.6" height="10.4" fill="#f23645"/><rect x="863.8" y="149.9" width="4.6" height="16.5" fill="#f23645"/><rect x="869.7" y="158.8" width="4.6" height="7.6" fill="#089981"/><rect x="875.6" y="155.0" width="4.6" height="15.0" fill="#f23645"/><rect x="881.5" y="163.9" width="4.6" height="22.6" fill="#f23645"/><rect x="887.4" y="172.8" width="4.6" height="10.2" fill="#089981"/><rect x="893.3" y="152.2" width="4.6" height="20.3" fill="#089981"/><rect x="899.2" y="145.4" width="4.6" height="8.4" fill="#089981"/><rect x="905.1" y="143.6" width="4.6" height="2.3" fill="#089981"/><rect x="911.0" y="148.7" width="4.6" height="8.9" fill="#f23645"/><rect x="916.9" y="145.4" width="4.6" height="30.5" fill="#f23645"/><rect x="922.8" y="175.8" width="4.6" height="33.8" fill="#f23645"/><rect x="928.7" y="210.1" width="4.6" height="21.6" fill="#f23645"/><rect x="934.6" y="220.3" width="4.6" height="11.4" fill="#089981"/><rect x="940.5" y="221.0" width="4.6" height="9.4" fill="#f23645"/><rect x="946.4" y="226.6" width="4.6" height="8.1" fill="#f23645"/><rect x="952.3" y="233.7" width="4.6" height="2.3" fill="#089981"/><rect x="958.2" y="233.5" width="4.6" height="14.2" fill="#f23645"/><rect x="964.1" y="232.9" width="4.6" height="14.0" fill="#089981"/><rect x="970.0" y="228.4" width="4.6" height="5.8" fill="#089981"/><rect x="975.9" y="227.9" width="4.6" height="2.5" fill="#089981"/><rect x="981.8" y="229.1" width="4.6" height="56.3" fill="#f23645"/><rect x="987.7" y="268.0" width="4.6" height="9.4" fill="#089981"/><rect x="993.6" y="255.8" width="4.6" height="10.2" fill="#089981"/><rect x="999.5" y="258.1" width="4.6" height="17.8" fill="#f23645"/><rect x="1005.4" y="247.8" width="4.6" height="23.1" fill="#089981"/><rect x="1011.3" y="243.9" width="4.6" height="3.0" fill="#089981"/><rect x="1017.2" y="243.3" width="4.6" height="3.6" fill="#f23645"/><rect x="1023.1" y="227.5" width="4.6" height="19.2" fill="#089981"/><rect x="1029.0" y="225.1" width="4.6" height="1.4" fill="#089981"/><rect x="1034.8" y="224.2" width="4.6" height="8.3" fill="#f23645"/><rect x="1040.7" y="232.1" width="4.6" height="4.7" fill="#f23645"/><rect x="1046.6" y="234.0" width="4.6" height="5.7" fill="#089981"/><rect x="1052.5" y="229.1" width="4.6" height="6.7" fill="#089981"/><rect x="1058.4" y="227.5" width="4.6" height="14.8" fill="#f23645"/><rect x="1064.3" y="235.4" width="4.6" height="7.9" fill="#f23645"/><rect x="1070.2" y="241.7" width="4.6" height="5.9" fill="#f23645"/><rect x="1076.1" y="254.8" width="4.6" height="7.3" fill="#f23645"/><rect x="1082.0" y="255.7" width="4.6" height="24.1" fill="#f23645"/><rect x="1087.9" y="276.9" width="4.6" height="12.8" fill="#f23645"/><rect x="1093.8" y="289.3" width="4.6" height="4.9" fill="#f23645"/><rect x="1099.7" y="293.7" width="4.6" height="1.6" fill="#089981"/><rect x="1105.6" y="295.5" width="4.6" height="1.2" fill="#f23645"/><rect x="1111.5" y="296.8" width="4.6" height="1.2" fill="#f23645"/><rect x="1117.4" y="289.3" width="4.6" height="8.3" fill="#089981"/><rect x="1123.3" y="278.8" width="4.6" height="11.3" fill="#089981"/><rect x="1129.2" y="271.5" width="4.6" height="6.7" fill="#089981"/><rect x="1135.1" y="271.5" width="4.6" height="3.9" fill="#f23645"/><rect x="1141.0" y="272.9" width="4.6" height="3.0" fill="#089981"/><rect x="1146.9" y="272.5" width="4.6" height="13.2" fill="#f23645"/><rect x="1152.8" y="279.8" width="4.6" height="9.9" fill="#089981"/><rect x="1158.7" y="274.3" width="4.6" height="5.5" fill="#089981"/><rect x="1164.6" y="257.7" width="4.6" height="23.5" fill="#089981"/><rect x="1170.5" y="254.8" width="4.6" height="1.4" fill="#089981"/><rect x="1176.4" y="248.8" width="4.6" height="6.9" fill="#089981"/><rect x="1182.3" y="248.1" width="4.6" height="1.4" fill="#089981"/><rect x="1188.2" y="252.7" width="4.6" height="17.2" fill="#f23645"/><rect x="1194.1" y="272.4" width="4.6" height="2.0" fill="#089981"/><rect x="1200.0" y="270.8" width="4.6" height="4.9" fill="#f23645"/><rect x="1205.9" y="273.7" width="4.6" height="1.2" fill="#f23645"/><rect x="1211.8" y="273.2" width="4.6" height="21.7" fill="#f23645"/><rect x="1217.7" y="294.5" width="4.6" height="9.3" fill="#f23645"/><rect x="1223.6" y="283.1" width="4.6" height="21.3" fill="#089981"/><rect x="1229.5" y="278.7" width="4.6" height="4.9" fill="#089981"/><rect x="1235.4" y="271.4" width="4.6" height="7.9" fill="#089981"/><rect x="1241.3" y="271.8" width="4.6" height="3.0" fill="#f23645"/><rect x="1247.2" y="274.4" width="4.6" height="1.4" fill="#f23645"/><rect x="1253.1" y="269.2" width="4.6" height="3.6" fill="#089981"/><rect x="1259.0" y="264.3" width="4.6" height="5.5" fill="#089981"/><rect x="1264.9" y="240.8" width="4.6" height="23.5" fill="#089981"/><rect x="1270.8" y="240.8" width="4.6" height="14.6" fill="#f23645"/><rect x="1276.7" y="254.6" width="4.6" height="3.9" fill="#f23645"/><rect x="1282.6" y="257.6" width="4.6" height="12.2" fill="#f23645"/><rect x="1288.5" y="269.2" width="4.6" height="2.2" fill="#f23645"/><rect x="1294.4" y="267.5" width="4.6" height="6.3" fill="#089981"/><rect x="1300.3" y="250.7" width="4.6" height="18.2" fill="#089981"/><rect x="1306.2" y="249.0" width="4.6" height="1.2" fill="#f23645"/><rect x="1312.1" y="249.0" width="4.6" height="1.2" fill="#089981"/><rect x="1318.0" y="249.1" width="4.6" height="1.2" fill="#089981"/><rect x="1323.9" y="250.6" width="4.6" height="1.2" fill="#089981"/><rect x="1329.8" y="244.6" width="4.6" height="8.5" fill="#089981"/><rect x="1335.6" y="244.2" width="4.6" height="4.5" fill="#f23645"/><rect x="1341.5" y="214.0" width="4.6" height="20.9" fill="#089981"/><rect x="1347.4" y="213.5" width="4.6" height="4.9" fill="#f23645"/><rect x="1353.3" y="218.4" width="4.6" height="4.9" fill="#f23645"/><rect x="1359.2" y="216.4" width="4.6" height="8.3" fill="#089981"/><rect x="1365.1" y="203.6" width="4.6" height="12.8" fill="#089981"/><rect x="1371.0" y="205.2" width="4.6" height="8.9" fill="#f23645"/><rect x="1376.9" y="200.0" width="4.6" height="13.8" fill="#089981"/><rect x="1382.8" y="186.2" width="4.6" height="14.4" fill="#089981"/><rect x="1388.7" y="187.2" width="4.6" height="10.5" fill="#f23645"/><rect x="1394.6" y="196.7" width="4.6" height="1.4" fill="#089981"/><rect x="1400.5" y="175.6" width="4.6" height="20.1" fill="#089981"/><rect x="1406.4" y="172.4" width="4.6" height="5.1" fill="#f23645"/><rect x="1412.3" y="151.9" width="4.6" height="29.4" fill="#089981"/><rect x="1418.2" y="153.6" width="4.6" height="5.5" fill="#f23645"/><rect x="1424.1" y="126.2" width="4.6" height="33.0" fill="#089981"/><rect x="1430.0" y="126.0" width="4.6" height="1.4" fill="#089981"/><rect x="1435.9" y="129.2" width="4.6" height="18.6" fill="#f23645"/><rect x="1441.8" y="151.3" width="4.6" height="50.9" fill="#f23645"/><rect x="1447.7" y="194.3" width="4.6" height="7.9" fill="#089981"/><rect x="1453.6" y="173.4" width="4.6" height="20.3" fill="#089981"/><rect x="1459.5" y="162.5" width="4.6" height="11.1" fill="#089981"/></g>
<line x1="3" y1="162.5" x2="1545" y2="162.5" stroke="#089981" stroke-width="1" stroke-dasharray="1 1.65" opacity="0.75"/>
<defs><linearGradient id="ob" x1="0" y1="0" x2="0" y2="1"><stop offset="0" stop-color="#4caf50" stop-opacity="0.75"/><stop offset="1" stop-color="#4caf50" stop-opacity="0"/></linearGradient><clipPath id="obc"><rect x="0" y="505" width="1545" height="46.5"/></clipPath></defs>
<rect x="0" y="511" width="1545" height="40.5" fill="url(#ob)" clip-path="url(#rc)"/>
<line x1="3" y1="551.5" x2="1545" y2="551.5" stroke="#787b86" stroke-width="0.9" stroke-dasharray="5 5"/>
<line x1="3" y1="633.5" x2="1545" y2="633.5" stroke="#787b86" stroke-width="0.9" stroke-dasharray="5 5"/>
<line x1="3" y1="592.5" x2="1545" y2="592.5" stroke="#c6c8cf" stroke-width="0.9" stroke-dasharray="5 5"/>
<polyline fill="none" stroke="#f4d682" stroke-width="1.2" stroke-linejoin="round" points="0.0,551.7 20.0,553.1 40.0,556.1 60.1,561.5 84.1,566.7 108.1,566.7 124.1,568.1 140.2,572.1 164.2,575.7 180.2,581.1 196.2,587.5 208.2,591.1 220.3,590.7 240.3,587.1 260.3,581.7 280.3,575.1 300.4,566.7 320.0,557.1 340.0,546.6 354.1,542.0 370.1,540.6 390.1,542.6 408.1,546.6 420.1,550.1 432.2,554.5 444.2,556.1 460.2,555.1 480.2,555.1 496.2,555.1 510.3,552.1 524.3,550.5 540.3,552.1 560.3,553.1 570.3,555.1 584.3,563.7 600.2,571.4 612.0,576.7 630.0,585.1 646.1,595.5 660.1,598.5 670.1,597.7 690.1,593.1 710.1,590.1 724.1,585.1 736.2,583.5 750.2,585.1 770.2,589.1 784.2,591.1 810.3,591.5 834.3,588.7 848.3,592.1 864.3,594.7 884.3,602.1 900.2,607.1 920.0,610.5 940.0,614.5 960.1,617.7 976.1,618.7 988.1,623.5 1001.1,626.5 1020.1,622.1 1040.2,614.7 1060.2,609.5 1076.2,605.7 1088.2,605.7 1104.2,610.5 1120.3,617.1 1136.3,619.1 1152.3,619.7 1160.3,619.1 1172.3,613.1 1188.3,603.7 1200.0,599.5 1208.0,598.7 1224.0,601.1 1240.0,598.7 1260.1,599.7 1276.1,596.7 1292.1,593.1 1306.1,587.1 1324.1,582.7 1340.2,579.1 1356.2,576.1 1372.2,569.1 1386.2,563.7 1400.2,560.7 1416.3,554.1 1430.3,551.1 1436.3,550.7 1444.3,553.1 1452.3,556.1 1461.7,558.1"/>
<polyline fill="none" stroke="#8566c6" stroke-width="1" stroke-linejoin="round" points="3.0,563.7 10.4,552.5 17.0,564.1 26.0,559.7 34.0,555.7 39.4,549.7 46.1,562.5 51.7,560.5 57.1,579.1 63.7,582.1 69.7,572.5 75.1,584.5 81.1,578.1 87.1,568.7 92.5,553.1 98.1,564.5 104.5,554.1 111.1,567.1 116.7,561.1 122.5,555.1 128.2,580.1 134.2,592.1 140.2,595.1 146.2,592.5 152.2,588.1 158.2,588.5 164.2,592.5 170.2,589.7 175.8,584.5 181.8,587.1 187.2,590.5 193.2,606.5 198.8,587.5 204.6,586.5 210.3,585.7 216.9,589.7 223.3,583.7 228.3,582.7 234.3,580.5 241.3,571.5 246.3,573.5 252.3,564.1 258.3,558.7 263.9,572.1 269.3,570.1 275.3,563.1 281.3,560.1 287.3,558.7 293.4,555.1 299.4,550.1 305.0,537.0 311.0,535.0 317.0,533.4 323.0,535.4 329.0,543.0 335.6,532.0 341.0,525.6 346.7,519.4 352.5,541.0 358.1,550.7 364.1,552.1 370.1,550.5 375.7,563.7 382.1,557.7 388.1,554.7 393.7,550.7 399.7,554.1 405.7,548.1 411.7,533.0 417.1,557.5 423.1,563.7 429.2,564.5 434.8,570.5 440.8,563.5 446.8,556.7 452.2,555.1 458.2,551.5 464.2,550.7 470.8,551.5 476.2,558.5 482.2,554.1 488.2,546.6 493.8,539.4 499.6,531.4 506.2,543.0 511.9,548.1 517.9,561.7 523.9,556.5 529.3,561.1 535.3,569.7 541.3,560.1 546.7,561.1 552.7,552.5 559.3,554.5 565.3,553.1 570.7,591.1 576.7,578.1 582.7,587.7 587.9,587.1 594.4,596.5 600.4,595.5 606.0,592.1 612.0,598.7 618.0,596.1 624.0,592.5 630.0,600.1 636.0,606.5 641.0,626.1 647.1,600.7 653.1,601.1 659.1,592.5 664.5,590.1 671.1,580.1 677.1,573.5 683.1,573.5 688.7,574.5 695.1,585.7 700.7,589.5 706.1,588.7 712.5,575.1 718.1,588.1 724.1,580.7 730.2,586.7 735.8,590.1 741.8,598.7 747.8,592.7 753.8,604.7 759.6,589.7 765.2,591.7 771.2,593.1 777.2,595.7 782.8,598.7 789.2,585.5 794.6,583.1 800.8,585.5 806.8,587.5 812.7,582.3 818.3,577.1 824.3,590.1 829.9,585.7 835.9,596.1 842.3,607.7 848.7,619.1 853.9,605.7 859.9,609.7 865.9,616.1 871.3,612.5 877.3,616.7 883.7,622.1 889.5,612.3 895.4,602.5 900.0,599.1 906.4,597.7 912.4,603.5 919.0,612.5 924.4,624.7 930.4,631.6 936.4,625.1 942.5,627.7 948.1,629.1 954.1,628.1 960.1,632.2 966.1,622.7 972.1,619.1 977.7,618.5 983.5,638.2 989.7,627.5 995.7,619.1 1001.1,625.7 1007.1,609.7 1013.1,607.7 1019.1,608.5 1025.2,598.1 1031.2,596.1 1036.8,599.7 1042.6,602.1 1048.6,600.7 1054.6,597.5 1060.2,604.7 1066.2,605.7 1072.2,608.1 1078.2,616.7 1084.2,624.7 1090.2,629.1 1096.2,631.6 1102.2,631.6 1108.2,632.8 1113.9,633.2 1120.3,620.7 1126.3,610.7 1131.9,605.1 1137.3,608.1 1143.3,605.5 1148.9,614.1 1154.7,608.7 1160.3,603.5 1167.3,587.1 1172.7,584.1 1178.9,579.1 1184.3,579.1 1190.3,599.5 1196.4,602.1 1202.4,605.1 1208.0,603.1 1213.6,620.1 1219.6,625.5 1226.0,603.5 1231.6,598.5 1237.6,592.5 1243.1,594.7 1249.1,596.1 1255.1,590.1 1261.1,584.1 1266.7,566.7 1273.1,580.7 1279.1,584.7 1284.7,594.1 1290.5,595.5 1296.7,592.1 1302.7,577.1 1308.7,577.1 1314.7,576.7 1320.1,576.1 1325.8,578.1 1332.2,572.1 1338.2,576.5 1343.8,551.1 1349.8,556.7 1355.8,562.5 1361.2,557.1 1366.8,550.7 1373.2,562.1 1378.8,554.1 1384.6,547.1 1390.8,559.5 1397.2,559.1 1402.6,547.7 1408.9,550.7 1414.7,539.4 1420.3,547.5 1426.3,535.4 1432.3,535.4 1438.3,555.1 1443.9,593.1 1449.9,589.1 1455.9,579.1 1461.7,574.1"/></svg>
<div class="strip"></div>
<div class="t ax" style="top:31.0px">15,0000</div>
<div class="t ax" style="top:70.9px">14,5000</div>
<div class="t ax" style="top:110.9px">14,0000</div>
<div class="t ax" style="top:150.8px">13,5000</div>
<div class="t ax" style="top:190.8px">13,0000</div>
<div class="t ax" style="top:230.7px">12,5000</div>
<div class="t ax" style="top:270.6px">12,0000</div>
<div class="t ax" style="top:310.6px">11,5000</div>
<div class="t ax" style="top:350.5px">11,0000</div>
<div class="t ax" style="top:390.5px">10,5000</div>
<div class="t ax" style="top:430.4px">10,0000</div>
<div class="t ax" style="top:470.3px">9,5000</div>
<div class="t ax" style="top:531.2px">80,00</div>
<div class="t ax" style="top:571.9px">60,00</div>
<div class="t ax" style="top:612.5px">40,00</div>
<div class="lb" style="top:98px;height:14.5px;width:49.5px;line-height:14.5px;background:#2962ff;color:#fff;">14,0700</div>
<div class="lb" style="top:131.5px;height:14.5px;width:49.5px;line-height:14.5px;background:#2962ff;color:#fff;">13,6500</div>
<div class="lb" style="top:155.5px;height:27.5px;width:53.5px;background:#089981;line-height:13px;padding-top:1px"><div>13,3523</div><div style="font-weight:bold;opacity:.92">16:51:23</div></div>
<div class="lb" style="top:195.7px;height:15.0px;width:49.5px;line-height:15.0px;background:#2962ff;color:#fff;">12,8500</div>
<div class="lb" style="top:210.7px;height:14.800000000000011px;width:50px;line-height:14.800000000000011px;background:#2962ff;color:#fff;">12,7367</div>
<div class="lb" style="top:551px;height:14.5px;width:38.5px;line-height:14.5px;background:#fdd835;color:#131722;font-weight:normal;-webkit-text-stroke:0.3px #131722;">66,45</div>
<div class="lb" style="top:567px;height:15px;width:38.5px;line-height:15px;background:#7e57c2;color:#fff;font-weight:normal;-webkit-text-stroke:0.3px #fff;">58,52</div>
<div class="t" style="left:10.7px;top:10px;transform:translateY(-50%);font-size:11px"><span style="font-weight:bold;font-size:10.5px;letter-spacing:-0.6px">EMA</span><span style="color:#5d606b;margin-left:2.4px">50 close</span><span style="color:#3d6de0;margin-left:8.2px">12,7367</span></div>
<div style="position:absolute;left:10px;top:23px;width:23px;height:16px;border:1px solid #e3e5ea;border-radius:3px;background:#fff"><svg width="23" height="16" viewBox="0 0 23 16" style="position:absolute;left:0;top:0"><path d="M7.7 10 L11.5 6.4 L15.3 10" fill="none" stroke="#131722" stroke-width="1.2"/></svg></div>
<div class="t" style="left:10.7px;top:519px;transform:translateY(-50%);font-size:11px"><span style="font-weight:bold;font-size:10.5px;letter-spacing:-0.8px">RSI</span><span style="color:#5d606b;margin-left:4.3px">14 close</span><span style="color:#7e57c2;margin-left:7.5px">58,52</span><span style="color:#f5c842;margin-left:6px">66,45</span></div>
<div class="t tm" style="left:69.9px;">Haz</div>
<div class="t tm" style="left:246.8px;">Tem</div>
<div class="t tm" style="left:429.7px;">Ağu</div>
<div class="t tm" style="left:612.5px;">Eyl</div>
<div class="t tm" style="left:789.4px;">Eki</div>
<div class="t tm" style="left:972.3px;">Kas</div>
<div class="t tm" style="left:1149.2px;">Ara</div>
<div class="t tm" style="left:1332.0px;font-weight:bold;font-size:11px;">2026</div>
<div class="t tm" style="left:1514.9px;">Şub</div>
<div class="t tb" style="left:15.6px">1G</div>
<div class="t tb" style="left:40.6px">5G</div>
<div class="t tb" style="left:66px">1A</div>
<div class="t tb" style="left:90px">3A</div>
<div class="t tb" style="left:114px">6A</div>
<div class="t tb" style="left:139px">Bu sene</div>
<div class="t tb" style="left:192px">1Y</div>
<div class="t tb" style="left:216px">Tümü</div>
<div style="position:absolute;left:256px;top:683.5px;width:1px;height:20px;background:#e6e8ec"></div>
<svg width="22" height="20" viewBox="0 0 22 20" style="left:266px;top:683px"><g fill="none" stroke="#131722" stroke-width="1.15"><path d="M3.5 9.8V6.6a2 2 0 0 1 2-2H16.4a2 2 0 0 1 2 2V15.1a2 2 0 0 1-2 2H11"/><path d="M7.7 2.2v3.3M14 2.2v3.3"/><path d="M4 7.9H18" stroke="#8c8e96"/><path d="M2.2 14.9H8.6" stroke="#3a3d47" stroke-width="1.3"/><path d="M6 12.3L8.9 14.9L6 17.5" stroke-width="1.3"/></g></svg>
<div class="t tb" style="left:1508.6px;font-size:11.65px">10:08:37 UTC+3</div>
<svg width="18" height="15" viewBox="0 0 18 15" style="left:1566px;top:657px"><path d="M2.5 7.4L5.5 2.6H12.3L15.3 7.4L12.3 12.2H5.5z" fill="none" stroke="#22252e" stroke-width="1.15" stroke-linejoin="round"/><circle cx="8.9" cy="7.4" r="1.65" fill="none" stroke="#22252e" stroke-width="1.15"/></svg>
<svg width="24" height="24" viewBox="0 0 24 24" style="left:1450px;top:480px"><circle cx="12" cy="12.2" r="8.6" fill="#fff" stroke="#8e2aa8" stroke-width="1.3"/><path d="M14 8.4L8.6 12.8h3.2L9.4 16.9l5.9-4.9h-3.2z" fill="#9c27b0" stroke="#9c27b0" stroke-width="0.5" stroke-linejoin="round"/><circle cx="18.1" cy="6.3" r="2.9" fill="#e53a3f" stroke="#fff" stroke-width="1.4"/></svg>
<svg width="160" height="24" viewBox="0 0 160 24" style="left:5px;top:620px"><g stroke="#fff" stroke-width="3" stroke-linejoin="round" paint-order="stroke" fill="#131722"><g transform="translate(8,3.1) scale(0.722)"><path d="M14 22H7V11H0V4h14z"/><path d="M28 22h-8L27.5 4h8z"/><circle cx="20" cy="8" r="4"/></g><text x="41" y="19" font-family="Liberation Sans, sans-serif" font-weight="bold" font-size="17.8" textLength="105.5" lengthAdjust="spacingAndGlyphs">TradingView</text></g></svg>
</body></html>
